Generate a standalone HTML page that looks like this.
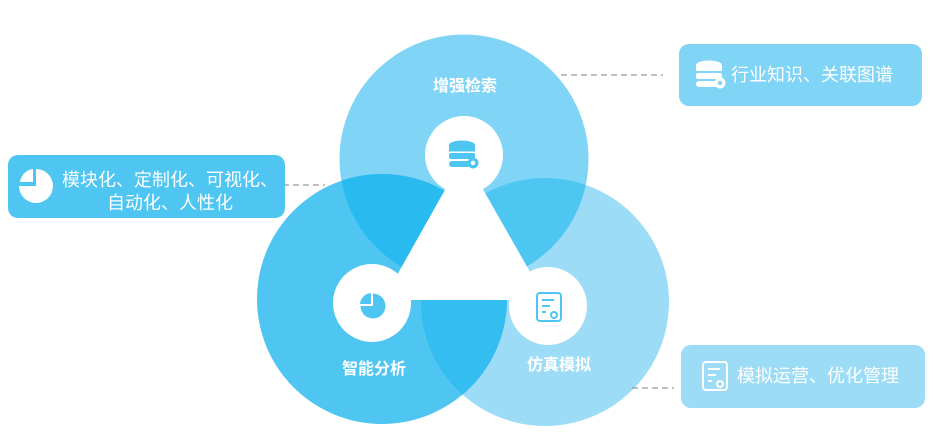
<!DOCTYPE html>
<html><head><meta charset="utf-8"><style>
html,body{margin:0;padding:0;background:#fff;}
svg{display:block;font-family:"Liberation Sans","Noto Sans CJK SC",sans-serif;}
</style></head><body>
<svg width="936" height="438" viewBox="0 0 936 438" xmlns="http://www.w3.org/2000/svg">
<defs>
<clipPath id="cT"><circle cx="464" cy="159" r="124.5"/></clipPath>
<clipPath id="cL"><circle cx="382" cy="299" r="125"/></clipPath>
<clipPath id="cR"><circle cx="545" cy="302" r="124"/></clipPath>
</defs>
<circle cx="545" cy="302" r="124" fill="#9ddcf7"/>
<circle cx="464" cy="159" r="124.5" fill="#80d4f6"/>
<circle cx="382" cy="299" r="125" fill="#4fc5f2"/>
<g clip-path="url(#cT)"><circle cx="545" cy="302" r="124" fill="#4dc6f2"/></g>
<g clip-path="url(#cL)"><circle cx="545" cy="302" r="124" fill="#33bdf0"/></g>
<g clip-path="url(#cT)"><circle cx="382" cy="299" r="125" fill="#29bbef"/></g>
<polygon points="464,156 383,300 546,300" fill="#fff"/>
<circle cx="464" cy="155" r="39" fill="#fff"/>
<circle cx="372" cy="303" r="39" fill="#fff"/>
<circle cx="548" cy="306" r="39" fill="#fff"/>
<!-- db icon -->
<g fill="#4fc5f2">
<ellipse cx="462" cy="145" rx="13" ry="4.5"/>
<rect x="449" y="145" width="26" height="6.5"/>
<rect x="449" y="153" width="26" height="6" rx="2"/>
<rect x="449" y="161" width="22" height="6" rx="3"/>
<circle cx="473" cy="163" r="5.5"/>
</g>
<circle cx="473" cy="163" r="2.2" fill="#fff"/>
<!-- pie icon -->
<circle cx="373" cy="306" r="12.5" fill="#4fc5f2"/>
<rect x="360" y="293" width="13" height="13" fill="#fff"/>
<path d="M360 304 A12 12 0 0 1 371 293 L371 304 Z" fill="#4fc5f2"/>
<!-- doc icon -->
<rect x="537" y="293" width="24" height="28" rx="3" fill="none" stroke="#4fc5f2" stroke-width="2"/>
<g stroke="#4fc5f2" stroke-width="2"><line x1="542" y1="300" x2="554" y2="300"/><line x1="542" y1="306" x2="550" y2="306"/><line x1="542" y1="312" x2="546" y2="312"/></g>
<circle cx="554" cy="315" r="3" fill="#fff" stroke="#4fc5f2" stroke-width="2"/>
<g fill="#fff" font-weight="bold" font-size="16" text-anchor="middle">
<text x="465" y="91">增强检索</text>
<text x="374" y="374">智能分析</text>
<text x="559" y="370">仿真模拟</text>
</g>
<g stroke="#999" stroke-width="1.3" stroke-dasharray="6,4" fill="none">
<line x1="561" y1="75" x2="663" y2="75"/>
<line x1="283" y1="185" x2="325" y2="185"/>
<line x1="632" y1="388" x2="674" y2="388"/>
</g>
<!-- boxes -->
<rect x="8" y="155" width="277" height="63" rx="10" fill="#4fc5f2"/>
<rect x="679" y="44" width="243" height="62" rx="10" fill="#80d4f6"/>
<rect x="681" y="345" width="244" height="63" rx="10" fill="#9ddcf7"/>
<circle cx="36" cy="186" r="17" fill="#fff"/>
<rect x="19" y="168" width="17" height="18" fill="#4fc5f2"/>
<path d="M20 182 A15 15 0 0 1 33 169 L33 182 Z" fill="#fff"/>
<g fill="#fff" font-size="18">
<text x="62" y="186">模块化、定制化、可视化、</text>
<text x="107" y="209">自动化、人性化</text>
<text x="731" y="81">行业知识、关联图谱</text>
<text x="737" y="382">模拟运营、优化管理</text>
</g>
<!-- db icon in box -->
<g fill="#fff">
<ellipse cx="709" cy="65" rx="13" ry="4.5"/>
<rect x="696" y="65" width="26" height="6"/>
<rect x="696" y="73" width="26" height="6" rx="2"/>
<rect x="696" y="81" width="22" height="6" rx="3"/>
<circle cx="720" cy="83" r="5.5"/>
</g>
<circle cx="720" cy="83" r="2.2" fill="#80d4f6"/>
<!-- doc icon in box -->
<rect x="703" y="362" width="24" height="28" rx="3" fill="none" stroke="#fff" stroke-width="2"/>
<g stroke="#fff" stroke-width="2"><line x1="708" y1="369" x2="720" y2="369"/><line x1="708" y1="375" x2="716" y2="375"/><line x1="708" y1="381" x2="712" y2="381"/></g>
<circle cx="720" cy="384" r="3" fill="#9ddcf7" stroke="#fff" stroke-width="2"/>
</svg>
</body></html>
